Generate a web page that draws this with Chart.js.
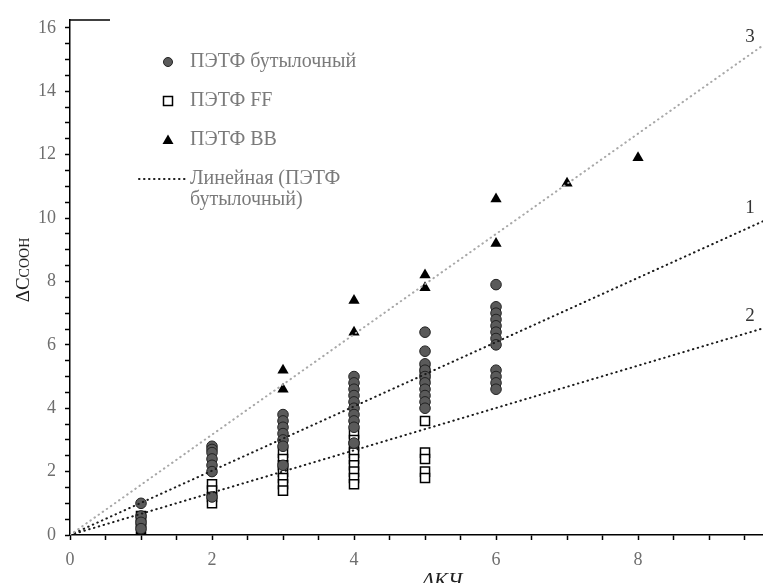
<!DOCTYPE html>
<html><head><meta charset="utf-8">
<script src="https://cdn.jsdelivr.net/npm/chart.js@4/dist/chart.umd.min.js"></script>
<style>html,body{margin:0;padding:0;background:#fff;overflow:hidden}</style>
</head><body>
<canvas id="c" width="763" height="583"></canvas>
<script>
// ---- data ----
const bottleX = [1,1,1,1, 2,2,2,2,2,2,2, 3,3,3,3,3,3,3, 4,4,4,4,4,4,4,4,4,4, 5,5,5,5,5,5,5,5,5,5, 6,6,6,6,6,6,6,6,6,6,6,6];
const bottleY = [1.0,0.6,0.4,0.2, 2.8,2.7,2.6,2.4,2.2,2.0,1.2, 3.8,3.6,3.4,3.2,3.0,2.8,2.2, 5.0,4.8,4.6,4.4,4.2,4.0,3.8,3.6,3.4,2.9, 6.4,5.8,5.4,5.2,5.0,4.8,4.6,4.4,4.2,4.0, 7.9,7.2,7.0,6.8,6.6,6.4,6.2,6.0,5.2,5.0,4.8,4.6];
const ffX = [1,1,1, 2,2,2,2, 3,3,3,3,3,3,3, 4,4,4,4,4,4,4,4,4, 5,5,5,5,5,5,5];
const ffY = [0.6,0.4,0.2, 1.6,1.4,1.2,1.0, 2.6,2.4,2.2,2.0,1.8,1.6,1.4, 3.2,3.0,2.8,2.6,2.4,2.2,2.0,1.8,1.6, 5.2,5.0,3.6,2.6,2.4,2.0,1.8];
const bbX = [3,3,4,4,5,5,6,6,7,8];
const bbY = [5.2,4.6,7.4,6.4,8.2,7.8,10.6,9.2,11.1,11.9];
const trendX = [0, 9.76];
const trend1Y = [0, 9.9];
const trend2Y = [0, 6.52];
const trend3Y = [0, 15.45];
const trendNames = ['1', '2', '3'];
const xTickLabels = [0, 2, 4, 6, 8];
const yTickLabels = [0, 2, 4, 6, 8, 10, 12, 14, 16];
const legendLabels = ['ПЭТФ бутылочный', 'ПЭТФ FF', 'ПЭТФ BB', 'Линейная (ПЭТФ', 'бутылочный)'];
const xTitle = 'ΔКЧ';
const yTitleMain = 'ΔC';
const yTitleSub = 'COOH';

const pts = (xs, ys) => xs.map((x, i) => ({x, y: ys[i]}));
const SERIF = '"Liberation Serif", "DejaVu Serif", serif';
const TICK_COLOR = '#6e6e6e';

const annot = {
  id: 'annot',
  afterDraw(chart) {
    const ctx = chart.ctx, xs = chart.scales.x, ys = chart.scales.y;
    ctx.save();
    // short top stub of the frame
    ctx.strokeStyle = '#000'; ctx.lineWidth = 1.5;
    ctx.beginPath(); ctx.moveTo(xs.left, ys.top); ctx.lineTo(xs.left + 40, ys.top); ctx.stroke();

    // legend
    const mx = 168, tx = 190;
    const rows = [62, 101, 140, 179, 200];
    ctx.font = '20px ' + SERIF; ctx.fillStyle = '#7a7a7a'; ctx.textBaseline = 'middle'; ctx.textAlign = 'left';
    legendLabels.forEach((t, i) => ctx.fillText(t, tx, rows[i]));
    // circle
    ctx.beginPath(); ctx.arc(mx, rows[0], 4.5, 0, Math.PI * 2);
    ctx.fillStyle = '#5a5a5a'; ctx.fill(); ctx.lineWidth = 1; ctx.strokeStyle = '#222'; ctx.stroke();
    // square
    ctx.beginPath(); ctx.rect(mx - 4.5, rows[1] - 4.5, 9, 9);
    ctx.fillStyle = '#fff'; ctx.fill(); ctx.lineWidth = 1.5; ctx.strokeStyle = '#000'; ctx.stroke();
    // triangle
    ctx.beginPath(); ctx.moveTo(mx, rows[2] - 5.5); ctx.lineTo(mx + 5.5, rows[2] + 4); ctx.lineTo(mx - 5.5, rows[2] + 4); ctx.closePath();
    ctx.fillStyle = '#000'; ctx.fill();
    // dotted sample
    ctx.beginPath(); ctx.setLineDash([0.5, 4.5]); ctx.lineCap = 'round'; ctx.lineWidth = 2; ctx.strokeStyle = '#1a1a1a';
    ctx.moveTo(139, rows[3]); ctx.lineTo(186, rows[3]); ctx.stroke();
    ctx.setLineDash([]);

    // trend line numbers
    const ends = [trend1Y[1], trend2Y[1], trend3Y[1]];
    const offs = [-13, -12, -8];
    ctx.font = '19px ' + SERIF; ctx.fillStyle = '#333'; ctx.textAlign = 'center';
    trendNames.forEach((n, i) => {
      ctx.fillText(n, xs.right - 13, ys.getPixelForValue(ends[i]) + offs[i]);
    });

    // x title
    ctx.font = 'italic 21px ' + SERIF; ctx.fillStyle = '#222'; ctx.textBaseline = 'alphabetic';
    ctx.fillText(xTitle, 442, 587);

    // y title (rotated, with small "COOH")
    ctx.translate(29, 270); ctx.rotate(-Math.PI / 2);
    ctx.font = '19px ' + SERIF; const w1 = ctx.measureText(yTitleMain).width;
    ctx.font = '14px ' + SERIF; const w2 = ctx.measureText(yTitleSub).width;
    const start = -(w1 + w2) / 2;
    ctx.textAlign = 'left'; ctx.fillStyle = '#222';
    ctx.font = '19px ' + SERIF; ctx.fillText(yTitleMain, start, 0);
    ctx.font = '14px ' + SERIF; ctx.fillText(yTitleSub, start + w1, 0);
    ctx.restore();
  }
};

new Chart(document.getElementById('c'), {
  data: {
    datasets: [
      { type: 'line', data: pts(trendX, trend3Y), borderColor: '#a8a8a8', borderWidth: 2, borderDash: [0.5, 4.5], borderCapStyle: 'round', pointRadius: 0, order: 0 },
      { type: 'line', data: pts(trendX, trend1Y), borderColor: '#1a1a1a', borderWidth: 2, borderDash: [0.5, 4.5], borderCapStyle: 'round', pointRadius: 0, order: 0 },
      { type: 'line', data: pts(trendX, trend2Y), borderColor: '#1a1a1a', borderWidth: 2, borderDash: [0.5, 4.5], borderCapStyle: 'round', pointRadius: 0, order: 0 },
      { type: 'scatter', label: legendLabels[2], data: pts(bbX, bbY), pointStyle: 'triangle', pointRadius: 6.5, backgroundColor: '#000', borderColor: '#000', borderWidth: 0, order: 1 },
      { type: 'scatter', label: legendLabels[0], data: pts(bottleX, bottleY), pointStyle: 'circle', pointRadius: 5.3, backgroundColor: '#5a5a5a', borderColor: '#222', borderWidth: 1, order: 2 },
      { type: 'scatter', label: legendLabels[1], data: pts(ffX, ffY), pointStyle: 'rect', pointRadius: 6.4, backgroundColor: '#fff', borderColor: '#000', borderWidth: 1.5, order: 3 }
    ]
  },
  options: {
    responsive: false,
    animation: false,
    events: [],
    layout: { autoPadding: false, padding: { top: 20, right: 0, left: 0, bottom: 0 } },
    plugins: { legend: { display: false }, tooltip: { enabled: false } },
    scales: {
      x: {
        type: 'linear', min: 0, max: trendX[1],
        afterFit: s => { s.height = 48; s.paddingLeft = 0; s.paddingRight = 0; },
        border: { display: true, color: '#000', width: 1.5 },
        grid: { drawOnChartArea: false, drawTicks: true, tickLength: 5, color: '#000', tickWidth: 1.5 },
        ticks: { stepSize: 0.5, includeBounds: false, autoSkip: false, maxRotation: 0, padding: 9,
          color: TICK_COLOR, font: { family: SERIF, size: 18 },
          callback: v => xTickLabels.includes(v) ? String(v) : '' }
      },
      y: {
        type: 'linear', min: 0, max: 16.25,
        afterFit: s => { s.width = 70; s.paddingTop = 0; s.paddingBottom = 0; },
        border: { display: true, color: '#000', width: 1.5 },
        grid: { drawOnChartArea: false, drawTicks: true, tickLength: 5, color: '#000', tickWidth: 1.5 },
        ticks: { stepSize: 0.5, includeBounds: false, autoSkip: false, padding: 9,
          color: TICK_COLOR, font: { family: SERIF, size: 18 },
          callback: v => yTickLabels.includes(v) ? String(v) : '' }
      }
    }
  },
  plugins: [annot]
});
</script>
</body></html>
